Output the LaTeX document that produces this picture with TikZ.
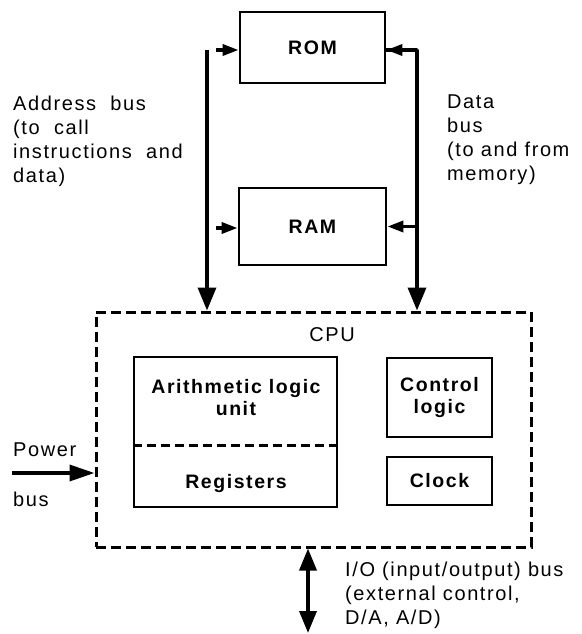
\documentclass[tikz,border=0pt]{standalone}
\usepackage{fontspec}
\setmainfont{Liberation Sans}[LetterSpace=8]
\usetikzlibrary{arrows.meta}

\begin{document}
\begin{tikzpicture}[x=1pt, y=-1pt, font=\fontsize{20}{24}\selectfont,
  lbl/.style = {inner sep=0pt, align=center, font=\fontsize{19.5}{22}\selectfont\bfseries},
  box/.style = {lbl, draw, line width=2.8pt},
  txt/.style = {anchor=west, align=left, inner sep=0pt},
  bus/.style = {line width=3.5pt, -{Triangle[length=23pt, width=18pt]}},
  feed/.style = {line width=3.5pt, -{Triangle[length=16pt, width=11pt]}},
  cpuline/.style = {line width=3pt, dash pattern=on 10pt off 5pt}]
  \useasboundingbox (0,0) rectangle (581,634);
  % memory
  \node[box, minimum width=145pt, minimum height=71pt] (rom) at (312.5,47.5) {ROM};
  \node[box, minimum width=147pt, minimum height=77pt] (ram) at (312.5,226.5) {RAM};
  % processor
  \node[cpuline, draw, minimum width=435pt, minimum height=235pt, inner sep=0pt] (cpu) at (313.5,429.5) {};
  \node (cpulbl) at (332,335) {CPU};
  \node[box, minimum width=203pt, minimum height=150pt] (alu) at (235.5,432) {};
  \node[lbl] (alutxt) at (236,398) {Arithmetic logic\\unit};
  \node[lbl] (regtxt) at (236,483) {Registers};
  \node[box, minimum width=105pt, minimum height=79pt] (ctrl) at (439.5,397.5) {Control\\logic};
  \node[box, minimum width=105pt, minimum height=48pt] (clk) at (439.5,481) {Clock};
  \coordinate (split) at (0,445);
  \draw[line width=3pt, dash pattern=on 9pt off 5pt] (alu.west |- split) -- (alu.east |- split);
  % buses
  \coordinate (abus) at (207,50);
  \coordinate (dbus) at (417,50);
  \coordinate (romin) at (216,50);
  \coordinate (ramin) at (216,228);
  \coordinate (pwr) at (12,473);
  \coordinate (io) at (308,633);
  \draw[bus] (abus) -- (abus |- cpu.north);
  \draw[bus, line join=round] (dbus -| rom.east) -- (dbus) -- (dbus |- cpu.north);
  \draw[feed] (dbus) -- (dbus -| rom.east);
  \draw[feed] (ram.east -| dbus) -- (ram.east);
  \draw[feed] (romin) -- (romin -| rom.west);
  \draw[feed] (ramin) -- (ramin -| ram.west);
  \draw[line width=3.5pt, -{Triangle[length=25pt, width=16pt]}] (pwr) -- (pwr -| cpu.west);
  \draw[line width=3.5pt, {Triangle[length=22pt, width=17pt]}-{Triangle[length=22pt, width=17pt]}] (io |- cpu.south) -- (io);
  % labels
  \node[txt] (addr) at (13,141) {Address\ \ bus\\(to\ \ call\\instructions\ \ and\\data)};
  \node[txt] (data) at (447,140) {Data\\bus\\(to and from\\memory)};
  \node[txt] (power) at (13,450) {Power};
  \node[txt] (pbus) at (13,499) {bus};
  \node[txt] (iotxt) at (345,595) {I/O (input/output) bus\\(external control,\\D/A, A/D)};
\end{tikzpicture}
\end{document}
